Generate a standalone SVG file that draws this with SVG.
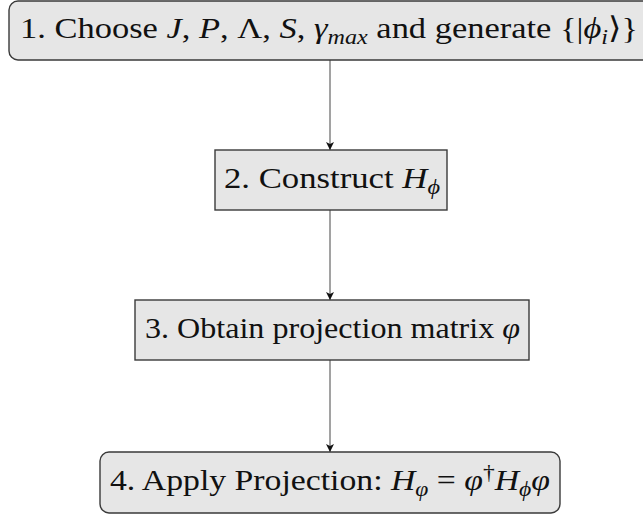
<svg xmlns="http://www.w3.org/2000/svg" width="643" height="516" viewBox="0 0 643 516">
  <style>
    .box { fill: #e6e6e6; stroke: #3a3a3a; stroke-width: 1.4; }
    .lbl { font-family: "Liberation Serif", "DejaVu Serif", serif; font-size: 30px; fill: #111; }
    .m { font-style: italic; }
    .sub { font-size: 21px; }
    .edge { stroke: #707070; stroke-width: 1.3; fill: none; marker-end: url(#head); }
  </style>
  <defs>
    <marker id="head" viewBox="0 0 8 10" refX="8" refY="5" markerWidth="8" markerHeight="10" markerUnits="userSpaceOnUse" orient="auto">
      <path d="M0,1 L8,5 L0,9 L2,5 Z" fill="#111"/>
    </marker>
  </defs>

  <g id="connectors">
    <line class="edge" x1="330" y1="60" x2="330" y2="150"/>
    <line class="edge" x1="330" y1="210" x2="330" y2="300"/>
    <line class="edge" x1="330" y1="360" x2="330" y2="452"/>
  </g>

  <g id="step1">
    <rect class="box" x="9" y="1" width="642" height="59" rx="9"/>
    <text class="lbl" x="20" y="38" textLength="618" lengthAdjust="spacingAndGlyphs">1. Choose <tspan class="m">J</tspan>, <tspan class="m">P</tspan>, Λ, <tspan class="m">S</tspan>, <tspan class="m">γ</tspan><tspan class="m sub" dy="6">max</tspan><tspan dy="-6"> and generate {|</tspan><tspan class="m">ϕ</tspan><tspan class="m sub" dy="6">i</tspan><tspan dy="-6">⟩}</tspan></text>
  </g>

  <g id="step2">
    <rect class="box" x="215" y="150" width="232" height="60"/>
    <text class="lbl" x="224" y="188" textLength="216" lengthAdjust="spacingAndGlyphs">2. Construct <tspan class="m">H</tspan><tspan class="m sub" dy="6">ϕ</tspan></text>
  </g>

  <g id="step3">
    <rect class="box" x="135" y="300" width="394" height="60"/>
    <text class="lbl" x="145" y="338" textLength="375" lengthAdjust="spacingAndGlyphs">3. Obtain projection matrix <tspan class="m">φ</tspan></text>
  </g>

  <g id="step4">
    <rect class="box" x="100" y="452" width="460" height="61" rx="9"/>
    <text class="lbl" x="110" y="490" textLength="440" lengthAdjust="spacingAndGlyphs">4. Apply Projection: <tspan class="m">H</tspan><tspan class="m sub" dy="6">φ</tspan><tspan dy="-6"> = </tspan><tspan class="m">φ</tspan><tspan class="sub" dy="-11">†</tspan><tspan class="m" dy="11">H</tspan><tspan class="m sub" dy="6">ϕ</tspan><tspan class="m" dy="-6">φ</tspan></text>
  </g>
</svg>
